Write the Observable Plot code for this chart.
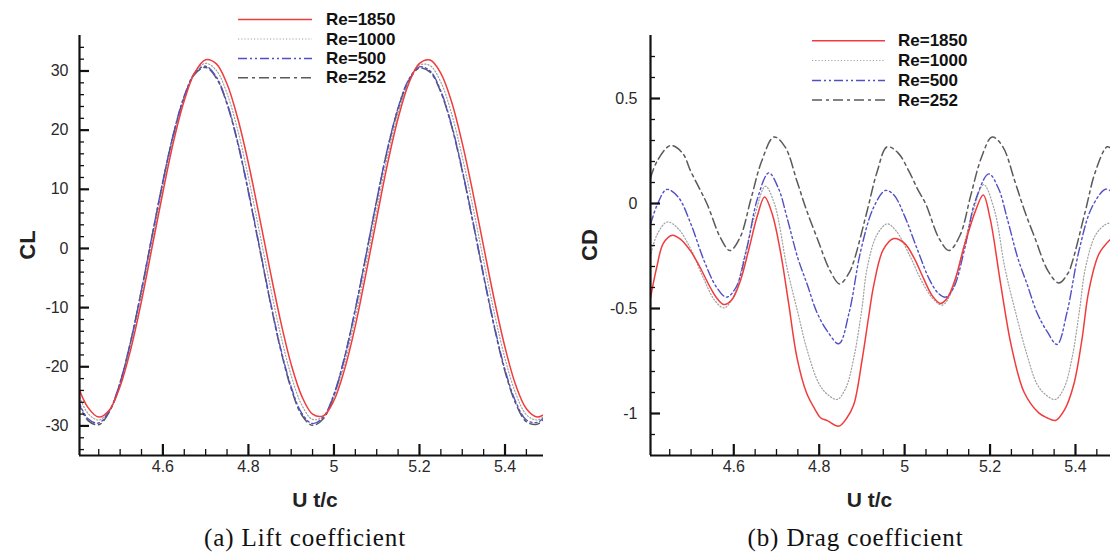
<!DOCTYPE html>
<html><head><meta charset="utf-8">
<script src="https://cdn.jsdelivr.net/npm/d3@7"></script>
<script src="https://cdn.jsdelivr.net/npm/@observablehq/plot@0.6"></script>
<style>
body{margin:0;background:#fff;}
#wrap{position:relative;width:1110px;height:555px;overflow:hidden;font-family:"Liberation Sans",Arial,sans-serif;background:#fff;}
.abs{position:absolute;}
.panelsvg text{font-size:16px !important;font-family:"Liberation Sans",Arial,sans-serif !important;fill:#2a2a2a;}
.ttl{font-weight:bold;font-size:21px;color:#222;white-space:nowrap;transform:translate(-50%,-50%);line-height:1;}
.rot{transform:translate(-50%,-50%) rotate(-90deg);font-size:22px;}
.cap{font-family:"Liberation Serif","Times New Roman",serif;font-size:25px;letter-spacing:0.9px;color:#111;white-space:nowrap;transform:translate(-50%,-50%);line-height:1;}
</style></head><body><div id="wrap"></div>
<script>
// ---------- Data ----------
const seriesNames = ["Re=1850", "Re=1000", "Re=500", "Re=252"];

// Lift coefficient (CL) vs U t/c
const clT = [4.400,4.425,4.450,4.475,4.500,4.525,4.550,4.575,4.600,4.625,4.650,4.675,4.700,4.725,4.750,4.775,4.800,4.825,4.850,4.875,4.900,4.925,4.950,4.975,5.000,5.025,5.050,5.075,5.100,5.125,5.150,5.175,5.200,5.225,5.250,5.275,5.300,5.325,5.350,5.375,5.400,5.425,5.450,5.475,5.500];
const clRe1850 = [-23.0,-26.9,-28.5,-27.3,-23.3,-17.0,-8.9,0.3,9.5,18.1,25.0,29.8,31.9,31.2,27.8,22.0,14.4,5.6,-3.5,-12.2,-19.6,-25.0,-28.0,-28.3,-25.7,-20.4,-13.1,-4.2,5.1,14.2,22.0,27.9,31.3,31.85,29.6,24.8,17.8,9.4,0.3,-8.7,-16.7,-23.1,-27.1,-28.5,-27.6];
const clRe1000 = [-24.2,-27.9,-29.0,-27.4,-23.0,-16.3,-8.0,1.3,10.5,18.8,25.4,29.8,31.3,30.1,26.2,20.0,12.0,3.1,-6.0,-14.5,-21.5,-26.5,-28.9,-28.4,-25.2,-19.4,-11.7,-2.7,6.6,15.5,22.9,28.2,31.0,30.9,28.1,22.8,15.5,7.0,-2.1,-10.9,-18.6,-24.5,-28.1,-29.0,-27.9];
const clRe500 = [-25.3,-28.8,-29.5,-27.4,-22.6,-15.6,-7.0,2.3,11.4,19.5,25.8,29.7,30.8,29.0,24.6,18.0,9.7,0.6,-8.5,-16.8,-23.4,-27.9,-29.6,-28.5,-24.6,-18.3,-10.2,-1.1,8.2,16.8,23.8,28.6,30.7,30.0,26.6,20.9,13.3,4.6,-4.5,-13.1,-20.5,-25.9,-29.0,-29.4,-28.0];
const clRe252 = [-25.6,-29.1,-29.8,-27.6,-22.7,-15.6,-7.0,2.2,11.3,19.4,25.6,29.5,30.6,28.8,24.4,17.8,9.5,0.4,-8.7,-17.0,-23.7,-28.2,-29.9,-28.8,-24.8,-18.4,-10.3,-1.2,8.1,16.7,23.6,28.4,30.5,29.8,26.4,20.7,13.1,4.4,-4.7,-13.3,-20.8,-26.2,-29.3,-29.7,-28.3];

// Drag coefficient (CD) vs U t/c
const cdT1850 = [4.405,4.42,4.435,4.456,4.475,4.499,4.52,4.545,4.56,4.577,4.595,4.615,4.635,4.655,4.672,4.69,4.709,4.728,4.748,4.77,4.79,4.803,4.82,4.846,4.865,4.881,4.90,4.915,4.928,4.95,4.975,5.0,5.022,5.045,5.065,5.084,5.10,5.12,5.14,5.165,5.184,5.20,5.225,5.25,5.28,5.314,5.333,5.353,5.375,5.396,5.415,5.431,5.455,5.482];
const cdRe1850 = [-0.45,-0.30,-0.19,-0.151,-0.17,-0.227,-0.30,-0.40,-0.45,-0.481,-0.46,-0.37,-0.22,-0.06,0.031,-0.05,-0.227,-0.47,-0.735,-0.90,-0.98,-1.02,-1.035,-1.06,-1.02,-0.957,-0.75,-0.55,-0.386,-0.22,-0.167,-0.19,-0.259,-0.36,-0.44,-0.476,-0.45,-0.35,-0.20,-0.04,0.040,-0.07,-0.386,-0.68,-0.90,-0.997,-1.02,-1.033,-0.98,-0.862,-0.65,-0.418,-0.24,-0.17];
const cdT1000 = [4.405,4.42,4.444,4.47,4.50,4.53,4.555,4.577,4.60,4.625,4.65,4.674,4.695,4.725,4.75,4.772,4.80,4.82,4.842,4.862,4.881,4.90,4.912,4.935,4.959,4.98,5.01,5.04,5.065,5.088,5.11,5.135,5.16,5.185,5.21,5.235,5.26,5.285,5.31,5.33,5.353,5.373,5.392,5.41,5.423,5.447,5.47,5.482];
const cdRe1000 = [-0.25,-0.15,-0.088,-0.12,-0.22,-0.36,-0.46,-0.497,-0.44,-0.25,-0.05,0.082,0.0,-0.31,-0.52,-0.70,-0.86,-0.91,-0.933,-0.88,-0.735,-0.50,-0.31,-0.15,-0.097,-0.13,-0.24,-0.37,-0.45,-0.484,-0.42,-0.23,-0.04,0.090,-0.03,-0.31,-0.52,-0.71,-0.86,-0.91,-0.933,-0.88,-0.735,-0.50,-0.31,-0.15,-0.10,-0.092];
const cdT500 = [4.405,4.42,4.443,4.47,4.50,4.53,4.56,4.583,4.605,4.63,4.655,4.682,4.705,4.725,4.75,4.772,4.795,4.819,4.846,4.87,4.897,4.927,4.955,4.975,5.00,5.03,5.06,5.08,5.096,5.115,5.14,5.165,5.197,5.22,5.24,5.265,5.287,5.31,5.333,5.357,5.38,5.408,5.438,5.47,5.482];
const cdRe500 = [-0.10,-0.01,0.067,0.03,-0.10,-0.27,-0.40,-0.446,-0.40,-0.22,0.02,0.146,0.07,-0.07,-0.26,-0.386,-0.52,-0.608,-0.668,-0.52,-0.227,-0.02,0.062,0.04,-0.06,-0.22,-0.37,-0.43,-0.446,-0.40,-0.22,0.01,0.141,0.07,-0.07,-0.26,-0.386,-0.52,-0.608,-0.671,-0.52,-0.227,-0.02,0.068,0.06];
const cdT252 = [4.405,4.42,4.452,4.48,4.499,4.52,4.538,4.569,4.591,4.615,4.64,4.665,4.694,4.72,4.748,4.77,4.795,4.826,4.848,4.87,4.881,4.912,4.936,4.959,4.985,5.01,5.03,5.05,5.08,5.104,5.13,5.155,5.18,5.205,5.23,5.258,5.28,5.305,5.336,5.361,5.383,5.393,5.423,5.447,5.474,5.485];
const cdRe252 = [0.12,0.20,0.276,0.24,0.154,0.07,-0.005,-0.164,-0.224,-0.16,0.02,0.20,0.317,0.27,0.106,-0.03,-0.164,-0.322,-0.383,-0.33,-0.275,-0.037,0.154,0.27,0.24,0.154,0.07,-0.005,-0.164,-0.224,-0.15,0.04,0.22,0.317,0.27,0.106,-0.03,-0.164,-0.322,-0.378,-0.33,-0.275,-0.037,0.154,0.27,0.26];

// Ticks and labels
const xMajor = [4.6, 4.8, 5.0, 5.2, 5.4];
const xMajorLabels = ["4.6", "4.8", "5", "5.2", "5.4"];
const xMinor = [4.45,4.5,4.55,4.65,4.7,4.75,4.85,4.9,4.95,5.05,5.1,5.15,5.25,5.3,5.35,5.45];
const clMajor = [-30,-20,-10,0,10,20,30];
const clMajorLabels = ["-30","-20","-10","0","10","20","30"];
const clMinor = [-34,-32,-28,-26,-24,-22,-18,-16,-14,-12,-8,-6,-4,-2,2,4,6,8,12,14,16,18,22,24,26,28,32,34];
const cdMajor = [-1,-0.5,0,0.5];
const cdMajorLabels = ["-1","-0.5","0","0.5"];
const cdMinor = [-1.1,-0.9,-0.8,-0.7,-0.6,-0.4,-0.3,-0.2,-0.1,0.1,0.2,0.3,0.4,0.6,0.7];

// ---------- Styles ----------
const sColor = ["#f03c3c", "#a0a0a0", "#4f4fc8", "#5a5a5a"];
const sDash = [null, "1.2,2", "9,3,2,3,2,3", "10,4,3,4"];
const sWidth = [1.5, 1.2, 1.4, 1.5];
const drawOrder = [1, 3, 2, 0];

const wrap = document.getElementById("wrap");

function panel(o) {
  const H = 470, mt = 35, mb = 15;
  const fh = H - mt - mb, fw = o.width - o.ml - o.mr;
  const marks = [];
  for (const i of drawOrder) {
    marks.push(Plot.line(d3.zip(o.xs[i], o.ys[i]), {
      x: d => d[0], y: d => d[1], stroke: sColor[i], strokeWidth: sWidth[i],
      strokeDasharray: sDash[i], curve: "catmull-rom", clip: true
    }));
  }
  marks.push(
    Plot.ruleX(xMinor, {stroke: "#111", strokeWidth: 1.3, insetTop: fh - 6}),
    Plot.ruleX(xMajor, {stroke: "#111", strokeWidth: 2.2, insetTop: fh - 11}),
    Plot.ruleY(o.yMinor, {stroke: "#111", strokeWidth: 1.3, insetRight: fw - 5}),
    Plot.ruleY(o.yMajor, {stroke: "#111", strokeWidth: 2.2, insetRight: fw - 10}),
    Plot.ruleX([o.xDom[0]], {stroke: "#111", strokeWidth: 2.2}),
    Plot.ruleY([o.yDom[0]], {stroke: "#111", strokeWidth: 2.2}),
    Plot.axisX(xMajor, {tickSize: 0, tickPadding: 5, tickFormat: d => xMajorLabels[xMajor.indexOf(d)], label: null}),
    Plot.axisY(o.yMajor, {tickSize: 0, tickPadding: o.yPad, tickFormat: d => o.yLabels[o.yMajor.indexOf(d)], label: null})
  );
  const svg = Plot.plot({
    width: o.width, height: H, className: "panelsvg",
    marginLeft: o.ml, marginRight: o.mr, marginTop: mt, marginBottom: mb,
    x: {domain: o.xDom, label: null},
    y: {domain: o.yDom, label: null},
    style: {fontFamily: "'Liberation Sans', Arial, sans-serif", fontSize: "16px", color: "#2a2a2a", background: "transparent", overflow: "visible"},
    marks
  });
  svg.classList.add("panelsvg");
  svg.style.position = "absolute";
  svg.style.left = o.left + "px";
  svg.style.top = "0px";
  wrap.appendChild(svg);
}

panel({
  left: 0, width: 555, ml: 79, mr: 12, yPad: 11,
  xDom: [4.405, 5.49], yDom: [-35, 36],
  xs: [clT, clT, clT, clT], ys: [clRe1850, clRe1000, clRe500, clRe252],
  yMajor: clMajor, yLabels: clMajorLabels, yMinor: clMinor
});
panel({
  left: 555, width: 555, ml: 95, mr: 0, yPad: 13,
  xDom: [4.405, 5.482], yDom: [-1.2, 0.8],
  xs: [cdT1850, cdT1000, cdT500, cdT252], ys: [cdRe1850, cdRe1000, cdRe500, cdRe252],
  yMajor: cdMajor, yLabels: cdMajorLabels, yMinor: cdMinor
});

// ---------- Legends ----------
const lg = d3.select(wrap).append("svg").attr("class", "abs")
  .attr("width", 1110).attr("height", 555).style("left", "0px").style("top", "0px")
  .style("pointer-events", "none");
function legend(x1, x2, tx, rows) {
  seriesNames.forEach((name, i) => {
    lg.append("line").attr("x1", x1).attr("x2", x2).attr("y1", rows[i]).attr("y2", rows[i])
      .attr("stroke", sColor[i]).attr("stroke-width", sWidth[i])
      .attr("stroke-dasharray", sDash[i]);
    lg.append("text").attr("x", tx).attr("y", rows[i]).attr("dominant-baseline", "central")
      .attr("font-family", "'Liberation Sans', Arial, sans-serif").attr("font-weight", "bold")
      .attr("font-size", 17).attr("fill", "#111").text(name);
  });
}
legend(238, 312, 326, [19.5, 39, 58.5, 77.7]);
legend(812, 885, 898, [40.7, 60.5, 80.5, 100]);

// ---------- Titles / captions ----------
function label(cls, text, x, y) {
  const d = document.createElement("div");
  d.className = "abs " + cls;
  d.textContent = text;
  d.style.left = x + "px"; d.style.top = y + "px";
  wrap.appendChild(d);
}
label("ttl rot", "CL", 27.5, 245);
label("ttl rot", "CD", 590, 245);
label("ttl", "U t/c", 315, 499);
label("ttl", "U t/c", 869.5, 499);
label("cap", "(a) Lift coefficient", 305, 537);
label("cap", "(b) Drag coefficient", 855.5, 537);
</script></body></html>
